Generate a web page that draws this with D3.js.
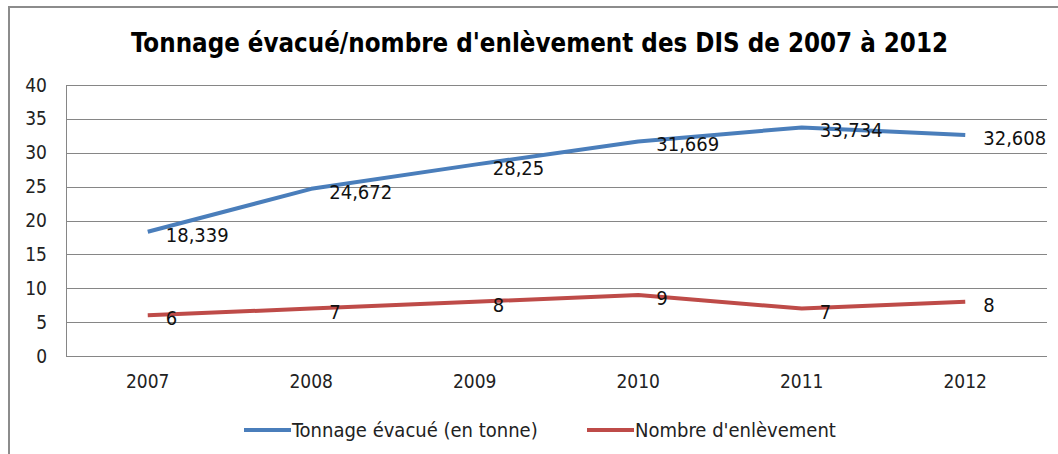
<!DOCTYPE html>
<html>
<head>
<meta charset="utf-8">
<script src="https://cdn.jsdelivr.net/npm/d3@7"></script>
<style>
  body { margin: 0; background: #fff; overflow: hidden; }
  text { font-family: "Liberation Sans Narrow", "DejaVu Sans Condensed", "Open Sans", sans-serif; }
</style>
</head>
<body>
<div id="chart"></div>
<script>
// years on the x axis
const years = ["2007", "2008", "2009", "2010", "2011", "2012"];
// tonnage evacuated (en tonne)
const tonnage = [18.339, 24.672, 28.25, 31.669, 33.734, 32.608];
// number of pickups
const enlevements = [6, 7, 8, 9, 7, 8];
const yTicks = [0, 5, 10, 15, 20, 25, 30, 35, 40];
const seriesNames = ["Tonnage évacué (en tonne)", "Nombre d'enlèvement"];
const colors = ["#4a7ebb", "#be4b48"];

const W = 1058, H = 454;
const margin = {top: 85, right: 11, bottom: 98, left: 66};

const svg = d3.select("#chart")
    .append("svg")
    .attr("width", W)
    .attr("height", H)
    .style("display", "block");

// outer frame (right and bottom edges fall outside the picture)
svg.append("rect")
    .attr("x", 9).attr("y", 7)
    .attr("width", W + 20).attr("height", H + 20)
    .style("fill", "none")
    .style("stroke", "#8c8c8c")
    .style("stroke-width", 2);

// title
svg.append("text")
    .attr("x", 539.5).attr("y", 52)
    .attr("text-anchor", "middle")
    .attr("textLength", 817)
    .attr("lengthAdjust", "spacingAndGlyphs")
    .style("font-size", "26px")
    .style("font-weight", "bold")
    .text("Tonnage évacué/nombre d'enlèvement des DIS de 2007 à 2012");

const x = d3.scaleBand()
    .domain(years)
    .range([margin.left, W - margin.right]);

const y = d3.scaleLinear()
    .domain([0, 40])
    .range([H - margin.bottom, margin.top]);

// gridlines
svg.append("g")
    .selectAll("line")
    .data(yTicks)
    .enter().append("line")
      .attr("x1", margin.left).attr("x2", W - margin.right)
      .attr("y1", d => Math.round(y(d)) + 0.5)
      .attr("y2", d => Math.round(y(d)) + 0.5)
      .style("stroke", "#868686")
      .style("stroke-width", 1.2);

// y axis
const yAxis = svg.append("g")
    .attr("transform", "translate(" + margin.left + ",0)")
    .call(d3.axisLeft(y).tickValues(yTicks).tickSize(0).tickPadding(19));
yAxis.select(".domain").style("stroke", "#868686");
yAxis.selectAll("text")
    .style("font-size", "19px")
    .style("fill", "#222");

// x axis labels
const xAxis = svg.append("g")
    .attr("transform", "translate(0," + (H - margin.bottom) + ")")
    .call(d3.axisBottom(x).tickSize(0).tickPadding(19));
xAxis.select(".domain").remove();
xAxis.selectAll("text")
    .style("font-size", "19px")
    .style("fill", "#222");

const line = d3.line()
    .x((d, i) => x(years[i]) + x.bandwidth() / 2)
    .y(d => y(d));

[tonnage, enlevements].forEach(function(values, s) {
  svg.append("path")
      .datum(values)
      .attr("d", line)
      .style("fill", "none")
      .style("stroke", colors[s])
      .style("stroke-width", 4)
      .style("stroke-linejoin", "round");

  svg.append("g")
    .selectAll("text")
    .data(values)
    .enter().append("text")
      .attr("x", (d, i) => x(years[i]) + x.bandwidth() / 2 + 18)
      .attr("y", d => y(d) + 3)
      .attr("dy", ".35em")
      .style("font-size", "20px")
      .style("fill", "#111")
      .text(d => String(d).replace(".", ","));
});

// legend
const legendX = [244, 587];
const legend = svg.selectAll(".legend")
    .data(seriesNames)
    .enter().append("g")
    .attr("class", "legend")
    .attr("transform", (d, i) => "translate(" + legendX[i] + ",430)");

legend.append("line")
    .attr("x1", 0).attr("x2", 47)
    .attr("y1", 0).attr("y2", 0)
    .style("stroke", (d, i) => colors[i])
    .style("stroke-width", 4);

legend.append("text")
    .attr("x", 48)
    .attr("y", 0)
    .attr("dy", ".35em")
    .style("font-size", "20px")
    .style("fill", "#222")
    .text(d => d);
</script>
</body>
</html>
